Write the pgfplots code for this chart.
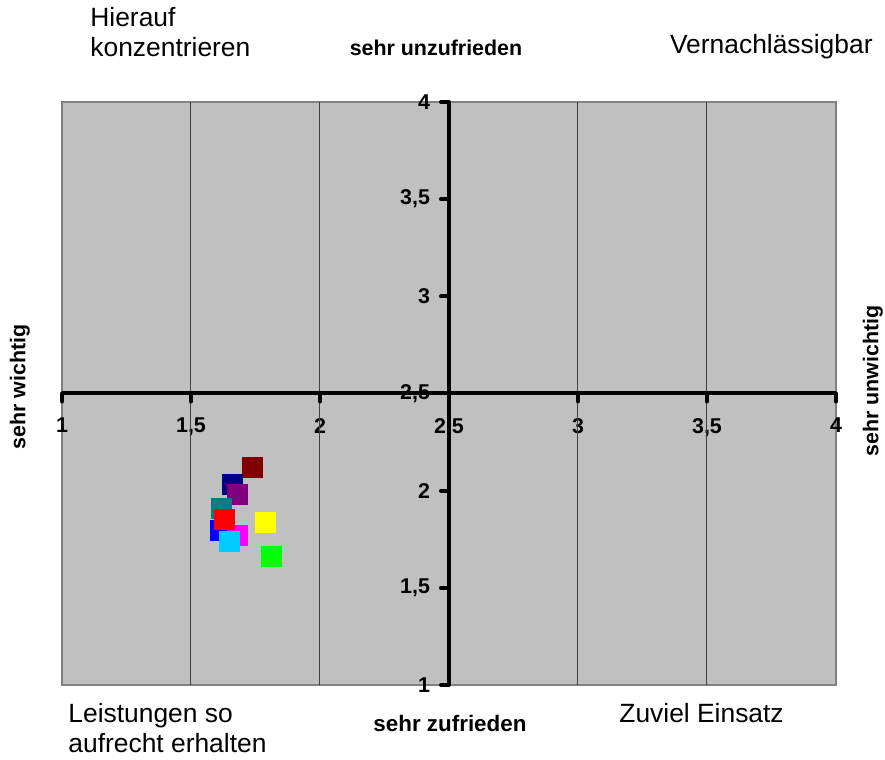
\documentclass[border=0pt]{standalone}
\usepackage{fontspec}
\setmainfont{Liberation Sans}
\usepackage{pgfplots}
\pgfplotsset{compat=1.18}
\definecolor{plotgray}{HTML}{C0C0C0}
\definecolor{bordergray}{HTML}{808080}
\definecolor{cMaroon}{HTML}{800000}
\definecolor{cNavy}{HTML}{000080}
\definecolor{cPurple}{HTML}{800080}
\definecolor{cTeal}{HTML}{008080}
\definecolor{cBlue}{HTML}{0000FF}
\definecolor{cMagenta}{HTML}{FF00FF}
\definecolor{cRed}{HTML}{FF0000}
\definecolor{cCyan}{HTML}{00CCFF}
\definecolor{cYellow}{HTML}{FFFF00}
\definecolor{cGreen}{HTML}{00FF00}
\pgfplotsset{sq/.style={only marks, mark=square*, mark size=5pt, mark options={draw=#1, fill=#1}}}
\newcommand{\bigfont}{\fontsize{13.2}{15}\selectfont}
\newcommand{\lblfont}{\bfseries\fontsize{10.7}{12.5}\selectfont}
\begin{document}
\begin{tikzpicture}
\path[use as bounding box] (-31pt,-37.5pt) rectangle (411.5pt,342.5pt);
\begin{axis}[
  at={(0pt,0pt)}, anchor=south west,
  scale only axis, width=387pt, height=291.5pt,
  xmin=1, xmax=4, ymin=1, ymax=4,
  axis background/.style={fill=plotgray},
  axis line style={draw=bordergray, line width=0.8pt},
  xtick={1,1.5,2,2.5,3,3.5,4},
  ytick={1,1.5,2,2.5,3,3.5,4},
  major tick length=0pt,
  /pgf/number format/assume math mode=true,
  /pgf/number format/use comma,
  ticklabel style={font=\lblfont},
  xticklabel style={yshift=137pt},
  yticklabel style={xshift=187.5pt},
  extra x ticks={1.5,2,3,3.5},
  extra x tick labels={},
  extra x tick style={grid=major},
  major grid style={draw=black!75, line width=0.5pt},
  clip=false,
]
\draw[line width=2pt] (axis cs:2.5,1) -- (axis cs:2.5,4);
\draw[line width=2pt] (axis cs:1,2.5) -- (axis cs:4,2.5);
\pgfplotsinvokeforeach{1,1.5,2,2.5,3,3.5,4}{
  \draw[line width=2pt, line cap=round] (axis cs:2.5,#1) -- ++(-4pt,0pt);
  \draw[line width=2pt, line cap=round] (axis cs:#1,2.5) -- ++(0pt,-4pt);
}
\addplot[sq=cMaroon]  coordinates {(1.739,2.120)};
\addplot[sq=cNavy]    coordinates {(1.659,2.030)};
\addplot[sq=cPurple]  coordinates {(1.679,1.979)};
\addplot[sq=cTeal]    coordinates {(1.619,1.907)};
\addplot[sq=cBlue]    coordinates {(1.614,1.794)};
\addplot[sq=cMagenta] coordinates {(1.679,1.769)};
\addplot[sq=cRed]     coordinates {(1.629,1.851)};
\addplot[sq=cCyan]    coordinates {(1.648,1.740)};
\addplot[sq=cYellow]  coordinates {(1.789,1.838)};
\addplot[sq=cGreen]   coordinates {(1.810,1.660)};
\end{axis}
\node[anchor=base west, inner sep=0pt, font=\bigfont] at (14pt,329pt) {Hierauf};
\node[anchor=base west, inner sep=0pt, font=\bigfont] at (14pt,314pt) {konzentrieren};
\node[anchor=base, inner sep=0pt, font=\lblfont] at (187pt,314.5pt) {sehr unzufrieden};
\node[anchor=base east, inner sep=0pt, font=\bigfont] at (405.5pt,315.5pt) {Vernachlässigbar};
\node[anchor=base west, inner sep=0pt, font=\bigfont] at (3pt,-19pt) {Leistungen so};
\node[anchor=base west, inner sep=0pt, font=\bigfont] at (3pt,-34pt) {aufrecht erhalten};
\node[anchor=base, inner sep=0pt, font=\bfseries\fontsize{11.2}{13}\selectfont] at (194pt,-23.5pt) {sehr zufrieden};
\node[anchor=base west, inner sep=0pt, font=\bigfont] at (278.5pt,-19pt) {Zuviel Einsatz};
\node[rotate=90, inner sep=0pt, font=\lblfont] at (-21pt,149pt) {sehr wichtig};
\node[rotate=90, inner sep=0pt, font=\lblfont] at (405.5pt,152pt) {sehr unwichtig};
\end{tikzpicture}
\end{document}
